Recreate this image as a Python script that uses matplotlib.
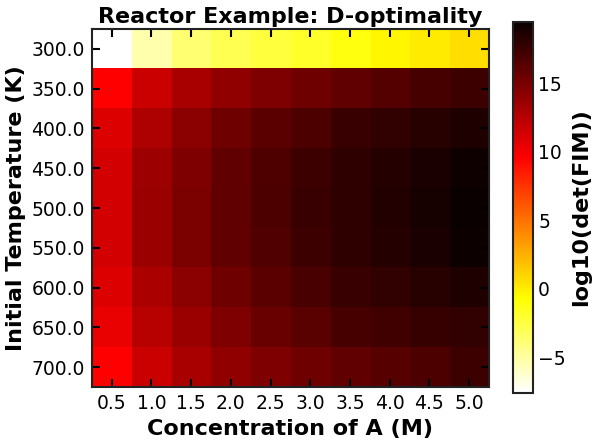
import numpy as np
import matplotlib
matplotlib.use("Agg")
import matplotlib.pyplot as plt

# 设计空间
conc_A = [0.5, 1.0, 1.5, 2.0, 2.5, 3.0, 3.5, 4.0, 4.5, 5.0]
temps = [300.0, 350.0, 400.0, 450.0, 500.0, 550.0, 600.0, 650.0, 700.0]

# log10(det(FIM)), rows = temperature, cols = concentration
row_300 = [-7.6, -5.3, -3.7, -2.85, -2.35, -1.8, -1.1, -0.3, 0.05, 0.65]
row_350 = [9.6, 11.75, 13.1, 14.1, 14.8, 15.4, 16.0, 16.5, 17.0, 17.4]
row_400 = [11.0, 12.9, 14.3, 15.4, 16.2, 16.8, 17.55, 17.9, 18.3, 18.65]
row_450 = [11.35, 13.5, 14.8, 16.0, 16.7, 17.4, 17.95, 18.4, 18.8, 19.2]
row_500 = [11.35, 13.6, 14.9, 16.0, 16.8, 17.5, 18.0, 18.5, 18.95, 19.5]
row_550 = [11.35, 13.6, 14.9, 16.0, 16.6, 17.4, 18.0, 18.4, 18.8, 19.3]
row_600 = [11.0, 13.0, 14.3, 15.4, 16.2, 16.9, 17.5, 17.9, 18.25, 18.6]
row_650 = [10.5, 12.5, 13.6, 14.8, 15.6, 16.3, 17.0, 17.2, 17.6, 17.9]
row_700 = [9.6, 11.75, 13.1, 14.1, 14.8, 15.4, 16.0, 16.4, 16.8, 17.4]

data = np.array([row_300, row_350, row_400, row_450, row_500,
                 row_550, row_600, row_650, row_700])

plt.rcParams["font.family"] = "DejaVu Sans"

fig = plt.figure(figsize=(5.97, 4.44), dpi=100)
ax = fig.add_axes([0.154, 0.128, 0.665, 0.807])
cax = fig.add_axes([0.859, 0.115, 0.033, 0.836])

im = ax.imshow(data, cmap="hot_r", aspect="auto", interpolation="nearest")

ax.set_xticks(range(len(conc_A)))
ax.set_xticklabels([f"{c:.1f}" for c in conc_A])
ax.set_yticks(range(len(temps)))
ax.set_yticklabels([f"{t:.1f}" for t in temps])
ax.tick_params(direction="in", length=6, width=1.5, labelsize=13.5,
               top=True, right=True, pad=5)
for s in ax.spines.values():
    s.set_linewidth(1.5)
    s.set_color("#222222")

ax.set_xlabel("Concentration of A (M)", fontsize=16, fontweight="bold", labelpad=4)
ax.set_ylabel("Initial Temperature (K)", fontsize=16, fontweight="bold", labelpad=4)
ax.set_title("Reactor Example: D-optimality", fontsize=16, fontweight="bold", pad=4)

cb = fig.colorbar(im, cax=cax)
cb.ax.tick_params(direction="in", labelsize=13.5, length=0, pad=4)
cb.outline.set_linewidth(1.5)
cb.outline.set_edgecolor("#222222")
cb.set_label("log10(det(FIM))", fontsize=16, fontweight="bold", labelpad=4)

fig.savefig("out.png", dpi=100)
